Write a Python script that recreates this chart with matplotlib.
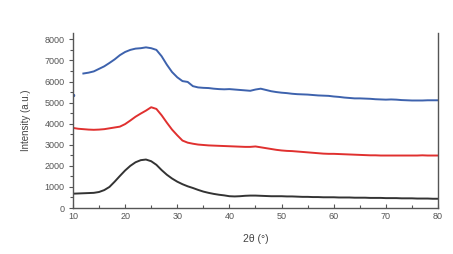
"""XRD patterns of three samples, recreated from a figure."""
import matplotlib
matplotlib.use("Agg")
import matplotlib.pyplot as plt
from matplotlib.ticker import MultipleLocator

plt.rcParams["font.family"] = ["Liberation Sans", "DejaVu Sans"]

# 2-theta grid (degrees)
two_theta_blue = list(range(12, 81))
two_theta = list(range(10, 81))

blue = [6380, 6420, 6480, 6600, 6720, 6880, 7050, 7250, 7400, 7500,
        7560, 7580, 7620, 7580, 7500, 7200, 6800, 6450, 6200, 6020,
        5980, 5780, 5720, 5700, 5690, 5660, 5640, 5630, 5640, 5620,
        5600, 5580, 5560, 5620, 5660, 5600, 5540, 5500, 5470, 5450,
        5420, 5400, 5390, 5380, 5360, 5340, 5330, 5320, 5290, 5270,
        5240, 5220, 5200, 5200, 5190, 5180, 5160, 5150, 5140, 5150,
        5140, 5120, 5110, 5100, 5100, 5100, 5110, 5110, 5110]
blue_stray = (10, 5380)

red = [3800, 3760, 3740, 3720, 3710, 3720, 3740, 3780, 3820, 3860,
       3980, 4150, 4330, 4480, 4620, 4780, 4700, 4400, 4050, 3720,
       3450, 3200, 3100, 3050, 3010, 2990, 2970, 2960, 2950, 2940,
       2930, 2920, 2910, 2900, 2900, 2920, 2880, 2840, 2800, 2760,
       2730, 2710, 2700, 2680, 2660, 2640, 2620, 2600, 2580, 2570,
       2570, 2560, 2550, 2540, 2530, 2520, 2510, 2500, 2500, 2490,
       2490, 2490, 2490, 2490, 2490, 2490, 2490, 2500, 2490, 2490,
       2490]

black = [680, 690, 700, 710, 720, 760, 850, 1000, 1250, 1520,
         1780, 2000, 2170, 2270, 2300, 2220, 2050, 1800, 1580, 1400,
         1250, 1130, 1030, 950, 860, 780, 720, 670, 630, 600,
         560, 550, 560, 580, 590, 590, 580, 570, 560, 560,
         560, 550, 550, 540, 530, 530, 520, 520, 510, 510,
         510, 500, 500, 500, 490, 490, 490, 480, 480, 480,
         470, 470, 470, 460, 460, 460, 450, 450, 450, 440,
         440]

fig = plt.figure(figsize=(4.53, 2.54), dpi=100)
ax = fig.add_axes([0.161, 0.181, 0.806, 0.689])

ax.plot(two_theta_blue, blue, color="#3d62ad", lw=1.4)
ax.plot(*blue_stray, "o", color="#3d62ad", ms=1.5)
ax.plot(two_theta, red, color="#e0302f", lw=1.4)
ax.plot(two_theta, black, color="#333333", lw=1.4)

ax.set_xlim(10, 80)
ax.set_ylim(0, 8300)
ax.xaxis.set_major_locator(MultipleLocator(10))
ax.xaxis.set_minor_locator(MultipleLocator(5))
ax.yaxis.set_major_locator(MultipleLocator(1000))
ax.yaxis.set_minor_locator(MultipleLocator(500))

for side in ("left", "bottom", "right"):
    ax.spines[side].set_color("#555555")
    ax.spines[side].set_linewidth(1.0)
ax.spines["top"].set_visible(False)
ax.tick_params(axis="both", which="both", colors="#555555", labelsize=6.5, width=0.8)
ax.tick_params(axis="x", which="major", direction="in", length=3)
ax.tick_params(axis="x", which="minor", direction="in", length=2)
ax.tick_params(axis="y", which="major", direction="out", length=3)
ax.tick_params(axis="y", which="minor", direction="out", length=2)
ax.tick_params(axis="y", pad=3)
ax.tick_params(axis="x", pad=3)

ax.set_xlabel("2\u03b8 (\u00b0)", fontsize=7.5, color="#444444", labelpad=9)
ax.set_ylabel("Intensity (a.u.)", fontsize=7, color="#444444", labelpad=10)

fig.savefig("out.png", dpi=100)
